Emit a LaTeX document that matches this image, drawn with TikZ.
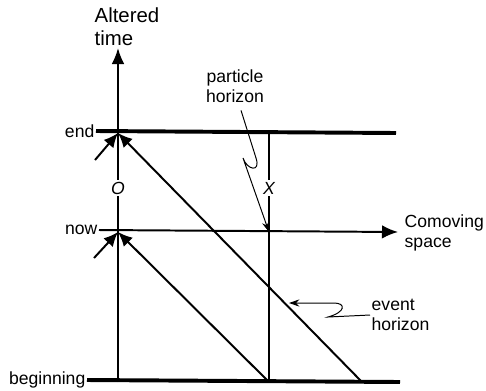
\documentclass[tikz,border=0pt]{standalone}
\usepackage{fontspec}
\setmainfont{Liberation Sans}
\usepackage{tikz}
\usetikzlibrary{arrows.meta,positioning}
\tikzset{
  worldline/.style={line width=1.4pt},
  epoch/.style={line width=2.8pt},
  ray/.style={line width=1.4pt, -{Latex[length=3.6mm, width=3.2mm]}},
  pointer/.style={line width=0.7pt, -{Stealth[length=2.6mm, width=1.8mm]}},
  lab/.style={font=\fontsize{12.5}{14.5}\selectfont, align=left, inner sep=1pt},
  tag/.style={lab, fill=white, inner sep=1.5pt},
}

\begin{document}
\begin{tikzpicture}[x=0.025cm, y=-0.025cm]
\useasboundingbox (0,0) rectangle (486,390);
% points on the diagram
\coordinate (beg) at (118,382);
\coordinate (now) at (118,232);
\coordinate (end) at (118,133);
\coordinate (top) at (118,48);
\coordinate (xb) at (269,382);
\coordinate (xn) at (269,232);
\coordinate (xe) at (269,133);
\coordinate (eb) at (362,382);
\coordinate (endr) at (396,133);
\coordinate (begr) at (400,382);
\coordinate (nowr) at (398,232);
\coordinate (inl) at (95,160);
\coordinate (inn) at (94,258);
\coordinate (evtip) at (289,303);

% labels
\node[lab, anchor=south west, font=\fontsize{14.5}{16}\selectfont] (ylab) at (93,47) {Altered\\time};
\node[lab, anchor=east] (endlab) at (96,131) {end};
\node[lab, anchor=east] (nowlab) at (99,230) {now};
\node[lab, anchor=east] (beglab) at (87,380) {beginning};
\node[lab, anchor=west] (xlab) at (403,233) {Comoving\\space};
\node[lab, align=center] (phlab) at (235,86) {particle\\horizon};
\node[lab, anchor=west] (evlab) at (370,315) {event\\horizon};

% axes and epochs
\draw[epoch] (endlab.east) -- (endr);
\draw[epoch] (beglab.east) -- (begr);
\draw[worldline, -{Latex[length=4mm, width=3.2mm]}] (end) -- (top);
\draw[worldline, -{Latex[length=4mm, width=3.4mm]}] (nowlab.east) -- (nowr);
\draw[worldline] (beg) -- (end);
\draw[worldline] (xb) -- (xe);
\node[tag] (o) at (118,188) {\itshape O};
\node[tag] (x) at (269,188) {\itshape X};

% light rays
\draw[ray] (xb) -- (now);
\draw[ray] (eb) -- (end);
\draw[ray] (inn) -- (now);
\draw[ray] (inl) -- (end);

% horizon pointers
\draw[pointer] ([shift={(6,6)}]phlab.south) -- (256,158) .. controls (261,173) and (247,170) .. (243,158) -- (xn);
\draw[pointer] (evlab.west) -- (328,317) .. controls (346,312) and (346,303) .. (334,303) -- (evtip);
\end{tikzpicture}
\end{document}
